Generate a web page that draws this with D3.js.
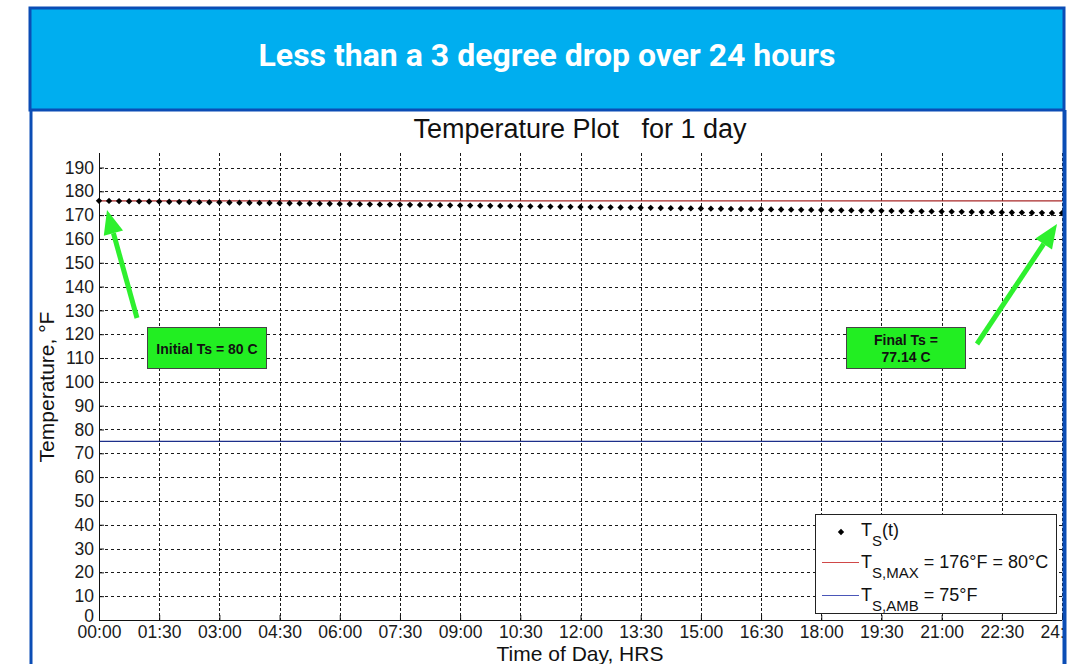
<!DOCTYPE html>
<html lang="en">
<head>
  <meta charset="UTF-8" />
  <title>Temperature Plot for 1 day</title>
  <script src="https://d3js.org/d3.v7.min.js"></script>
  <style>
    body { margin: 0; padding: 0; background: #fff; }
    svg { display: block; }
    .tick-label { font-family: "Liberation Sans", Arial, sans-serif; font-size: 17.5px; fill: #1a1a1a; }
    .grid { stroke: #1a1a1a; stroke-width: 1; }
    .note { font-family: "Liberation Sans", Arial, sans-serif; font-size: 14px; font-weight: bold; fill: #111; }
    .leg { font-family: "Liberation Sans", Arial, sans-serif; font-size: 18px; fill: #111; }
  </style>
</head>
<body>
  <svg width="1078" height="664"></svg>

  <script>
    const headline = "Less than a 3 degree drop over 24 hours";
    const plotTitle = "Temperature Plot   for 1 day";

    // surface temperature, one sample every 15 minutes (deg F)
    const sampleStepMin = 15;
    const tempF = [
      176.00, 175.95, 175.89, 175.84, 175.79, 175.73, 175.68, 175.62, 175.57, 175.52,
      175.46, 175.41, 175.36, 175.30, 175.25, 175.20, 175.14, 175.09, 175.03, 174.98,
      174.93, 174.87, 174.82, 174.77, 174.71, 174.66, 174.61, 174.55, 174.50, 174.44,
      174.39, 174.34, 174.28, 174.23, 174.18, 174.12, 174.07, 174.01, 173.96, 173.91,
      173.85, 173.80, 173.75, 173.69, 173.64, 173.59, 173.53, 173.48, 173.42, 173.37,
      173.32, 173.26, 173.21, 173.16, 173.10, 173.05, 173.00, 172.94, 172.89, 172.83,
      172.78, 172.73, 172.67, 172.62, 172.57, 172.51, 172.46, 172.41, 172.35, 172.30,
      172.24, 172.19, 172.14, 172.08, 172.03, 171.98, 171.92, 171.87, 171.81, 171.76,
      171.71, 171.65, 171.60, 171.55, 171.49, 171.44, 171.38, 171.33, 171.28, 171.22,
      171.17, 171.12, 171.06, 171.01, 170.96, 170.90, 170.85
    ];
    const tMax = 176;
    const tAmb = 75;

    const xTickMinutes = [0, 90, 180, 270, 360, 450, 540, 630, 720, 810, 900, 990, 1080, 1170, 1260, 1350, 1440];
    const yTicks = d3.range(0, 200, 10);

    const svg = d3.select("svg");
    const blue = "#0b4db5";

    // header band
    svg.append("rect")
      .attr("x", 30).attr("y", 8).attr("width", 1034).attr("height", 102)
      .attr("fill", "#00aeef").attr("stroke", blue).attr("stroke-width", 3);
    svg.append("text")
      .attr("x", 547).attr("y", 66)
      .attr("text-anchor", "middle")
      .attr("font-family", "Roboto, sans-serif")
      .attr("font-weight", "bold")
      .attr("font-size", 32)
      .attr("fill", "#fff")
      .text(headline);

    svg.append("clipPath").attr("id", "frame")
      .append("rect").attr("x", 32).attr("y", 111).attr("width", 1031).attr("height", 553);

    const g = svg.append("g").attr("clip-path", "url(#frame)");

    const x = d3.scaleLinear().domain([0, 1440]).range([99, 1062]);
    const y = d3.scaleLinear().domain([0, 190]).range([620, 167.5]);
    const yTop = 153;

    // grid
    g.selectAll(".hgrid").data(yTicks.filter(d => d > 0)).enter()
      .append("line").attr("class", "grid")
      .attr("x1", 99).attr("x2", 1062)
      .attr("y1", d => Math.round(y(d)) + 0.5).attr("y2", d => Math.round(y(d)) + 0.5)
      .attr("stroke-dasharray", "3,3");
    g.selectAll(".vgrid").data(xTickMinutes.filter(d => d > 0)).enter()
      .append("line").attr("class", "grid")
      .attr("x1", d => Math.round(x(d)) + 0.5).attr("x2", d => Math.round(x(d)) + 0.5)
      .attr("y1", yTop).attr("y2", 620)
      .attr("stroke-dasharray", "3,2");

    // reference lines
    g.append("line")
      .attr("x1", 99).attr("x2", 1062)
      .attr("y1", y(tMax)).attr("y2", y(tMax))
      .attr("stroke", "#a82828").attr("stroke-width", 1.4);
    g.append("line")
      .attr("x1", 99).attr("x2", 1062)
      .attr("y1", y(tAmb)).attr("y2", y(tAmb))
      .attr("stroke", "#1c2f8a").attr("stroke-width", 1.4);

    // axes
    const xAxis = d3.axisBottom(x).tickValues(xTickMinutes).tickSize(-5).tickPadding(6)
      .tickFormat(m => d3.format("02d")(Math.floor(m / 60)) + ":" + d3.format("02d")(m % 60));
    const yAxis = d3.axisLeft(y).tickValues(yTicks).tickSize(-5).tickPadding(5);

    const gx = g.append("g").attr("transform", "translate(0,620)").call(xAxis);
    const gy = g.append("g").attr("transform", "translate(99,0)").call(yAxis);
    [gx, gy].forEach(a => {
      a.select(".domain").remove();
      a.selectAll(".tick line").attr("stroke", "#111");
      a.selectAll(".tick text").attr("class", "tick-label").attr("fill", null);
    });
    gx.selectAll(".tick text").attr("dy", "0.71em");
    gy.selectAll(".tick text").filter(d => d === 0).attr("dy", "0.1em");
    g.append("line").attr("x1", 99).attr("x2", 1062).attr("y1", 620.5).attr("y2", 620.5).attr("stroke", "#111");
    g.append("line").attr("x1", 99.5).attr("x2", 99.5).attr("y1", yTop).attr("y2", 620).attr("stroke", "#111");

    // samples (small diamonds)
    const marker = d3.symbol().type(d3.symbolSquare).size(20);
    g.selectAll(".pt").data(tempF).enter()
      .append("path")
      .attr("d", marker)
      .attr("transform", (d, i) => `translate(${x(i * sampleStepMin)},${y(d)}) rotate(45)`)
      .attr("fill", "#000");

    // titles
    g.append("text")
      .attr("x", 580).attr("y", 138)
      .attr("text-anchor", "middle")
      .attr("font-family", "Liberation Sans, Arial, sans-serif")
      .attr("font-size", 27)
      .attr("fill", "#111")
      .attr("xml:space", "preserve")
      .style("white-space", "pre")
      .text(plotTitle);
    g.append("text")
      .attr("x", 580).attr("y", 661)
      .attr("text-anchor", "middle")
      .attr("font-family", "Liberation Sans, Arial, sans-serif")
      .attr("font-size", 21)
      .attr("fill", "#111")
      .text("Time of Day, HRS");
    g.append("text")
      .attr("transform", "translate(54,387) rotate(-90)")
      .attr("text-anchor", "middle")
      .attr("font-family", "Liberation Sans, Arial, sans-serif")
      .attr("font-size", 21)
      .attr("fill", "#111")
      .text("Temperature, °F");

    // legend
    const leg = g.append("g");
    leg.append("rect")
      .attr("x", 815.5).attr("y", 514.5).attr("width", 241).attr("height", 99)
      .attr("fill", "#fff").attr("stroke", "#222");
    leg.append("path").attr("d", marker).attr("transform", "translate(841,532) rotate(45)").attr("fill", "#000");
    leg.append("line").attr("x1", 822).attr("x2", 859).attr("y1", 562.5).attr("y2", 562.5).attr("stroke", "#d04848");
    leg.append("line").attr("x1", 822).attr("x2", 859).attr("y1", 595.5).attr("y2", 595.5).attr("stroke", "#4a56b8");

    const legendRows = [
      { y: 536, sub: "S", rest: "(t)" },
      { y: 568, sub: "S,MAX", rest: " = 176°F = 80°C" },
      { y: 601, sub: "S,AMB", rest: " = 75°F" }
    ];
    legendRows.forEach(r => {
      const t = leg.append("text").attr("class", "leg").attr("x", 861).attr("y", r.y).attr("xml:space", "preserve");
      t.append("tspan").text("T");
      t.append("tspan").attr("font-size", 15).attr("dy", 10).text(r.sub);
      t.append("tspan").attr("dy", -10).text(r.rest);
    });

    // annotations
    function arrow(x1, y1, x2, y2) {
      const a = Math.atan2(y2 - y1, x2 - x1);
      const len = 24, half = 10;
      const bx = x2 - len * Math.cos(a), by = y2 - len * Math.sin(a);
      g.append("line")
        .attr("x1", x1).attr("y1", y1).attr("x2", bx).attr("y2", by)
        .attr("stroke", "#2ef02e").attr("stroke-width", 5);
      g.append("path")
        .attr("d", `M${x2},${y2}L${bx + half * Math.sin(a)},${by - half * Math.cos(a)}L${bx - half * Math.sin(a)},${by + half * Math.cos(a)}Z`)
        .attr("fill", "#2ef02e");
    }
    arrow(137, 318, 107, 210);
    arrow(977, 344, 1057, 224);

    function noteBox(x0, y0, lines) {
      g.append("rect")
        .attr("x", x0 + 0.5).attr("y", y0 + 0.5).attr("width", 119).attr("height", 41)
        .attr("fill", "#22ee22").attr("stroke", "#444");
      lines.forEach((s, i) => {
        g.append("text").attr("class", "note")
          .attr("x", x0 + 60)
          .attr("y", y0 + (lines.length === 1 ? 27 : 18 + i * 17))
          .attr("text-anchor", "middle")
          .text(s);
      });
    }
    noteBox(147, 327, ["Initial Ts = 80 C"]);
    noteBox(846, 327, ["Final Ts =", "77.14 C"]);

    // frame sides
    svg.append("line").attr("x1", 31).attr("x2", 31).attr("y1", 110).attr("y2", 664).attr("stroke", blue).attr("stroke-width", 3);
    svg.append("line").attr("x1", 1064.5).attr("x2", 1064.5).attr("y1", 110).attr("y2", 664).attr("stroke", blue).attr("stroke-width", 4);
  </script>
</body>
</html>
